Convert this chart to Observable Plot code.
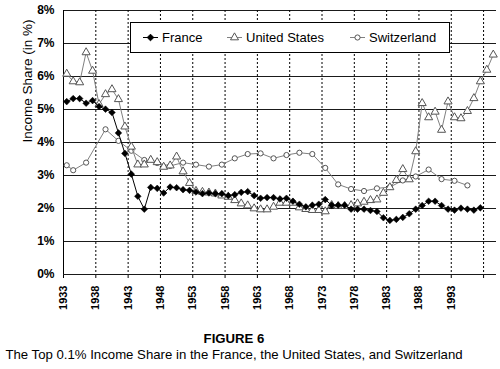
<!DOCTYPE html>
<html>
<head>
<meta charset="utf-8">
<script src="https://cdn.jsdelivr.net/npm/d3@7"></script>
<script src="https://cdn.jsdelivr.net/npm/@observablehq/plot@0.6"></script>
<style>
  body { margin: 0; background: #fff; font-family: "Liberation Sans", Arial, sans-serif; }
  #wrap { position: relative; width: 500px; height: 369px; overflow: hidden; }
  #chart { position: absolute; left: 0; top: 0; }
  #chart svg [aria-label="x-axis tick label"] text { font-size: 11px; font-weight: bold; }
  #chart svg [aria-label="y-axis tick label"] text { font-size: 12px; font-weight: bold; }
  #legend { position: absolute; left: 130px; top: 22px; width: 320px; height: 31px; box-sizing: border-box;
            border: 1px solid #000; background: #fff; }
  .cap { position: absolute; left: 0; width: 468px; text-align: center; font-size: 13.2px; line-height: 15px; color: #000; }
  #cap1 { top: 331px; font-weight: bold; }
  #cap2 { top: 347px; }
</style>
</head>
<body>
<div id="wrap">
  <div id="chart"></div>
  <div id="legend"></div>
  <div class="cap" id="cap1">FIGURE 6</div>
  <div class="cap" id="cap2">The Top 0.1% Income Share in the France, the United States, and Switzerland</div>
</div>
<script>
// ---- data (income share of top 0.1%, in %) ----
const franceYears = d3.range(1933, 1998);
const franceValues = [
  5.24, 5.33, 5.33, 5.19, 5.27, 5.09, 5.01, 4.91, 4.29, 3.67,
  3.04, 2.37, 1.98, 2.64, 2.61, 2.47, 2.65, 2.63, 2.57, 2.55,
  2.50, 2.45, 2.47, 2.45, 2.45, 2.39, 2.42, 2.49, 2.51, 2.39,
  2.31, 2.33, 2.33, 2.29, 2.31, 2.22, 2.13, 2.05, 2.10, 2.13,
  2.27, 2.10, 2.10, 2.10, 1.98, 1.98, 1.98, 1.94, 1.91, 1.72,
  1.64, 1.67, 1.73, 1.84, 1.98, 2.09, 2.22, 2.22, 2.09, 1.98,
  1.95, 2.01, 1.98, 1.95, 2.02
];
const usYears = d3.range(1933, 2000);
const usValues = [
  6.08, 5.85, 5.82, 6.73, 6.17, 5.16, 5.46, 5.61, 5.31, 4.48,
  3.87, 3.33, 3.33, 3.47, 3.40, 3.26, 3.30, 3.57, 3.12, 2.77,
  2.53, 2.50, 2.48, 2.45, 2.39, 2.35, 2.25, 2.15, 2.09, 2.00,
  1.97, 1.97, 2.05, 2.17, 2.17, 2.17, 2.03, 1.98, 1.95, 1.95,
  1.91, 2.10, 2.07, 2.07, 2.10, 2.15, 2.20, 2.25, 2.27, 2.47,
  2.64, 2.86, 3.19, 2.88, 3.73, 5.19, 4.76, 4.93, 4.38, 5.24,
  4.76, 4.73, 4.95, 5.34, 5.85, 6.20, 6.66
];
const swissYears = [1933, 1934, 1936, 1939, 1941, 1943, 1945, 1947, 1949, 1951, 1953, 1955, 1957, 1959, 1961,
  1963, 1965, 1967, 1969, 1971, 1973, 1975, 1977, 1979, 1981, 1983, 1985, 1987, 1989, 1991, 1993, 1995];
const swissValues = [3.31, 3.16, 3.39, 4.40, 4.05, 3.75, 3.47, 3.38, 3.29, 3.39, 3.33, 3.27, 3.33, 3.52, 3.65,
  3.67, 3.52, 3.62, 3.69, 3.65, 3.23, 2.73, 2.59, 2.53, 2.61, 2.65, 2.85, 2.97, 3.18, 2.89, 2.84, 2.70];

const gridYears = [1933, 1938, 1943, 1948, 1953, 1958, 1963, 1968, 1973, 1978, 1983, 1988, 1993, 1998];
const tickLabels = [1933, 1938, 1943, 1948, 1953, 1958, 1963, 1968, 1973, 1978, 1983, 1988, 1993];
const yTicks = [0, 1, 2, 3, 4, 5, 6, 7, 8];
const seriesNames = ["France", "United States", "Switzerland"];
const yTitle = "Income Share (in %)";

// ---- build tables ----
const rows = (years, values, s) => years.map((yr, i) => ({year: yr, value: values[i], series: s}));
const fr = rows(franceYears, franceValues, seriesNames[0]);
const us = rows(usYears, usValues, seriesNames[1]);
const sw = rows(swissYears, swissValues, seriesNames[2]);
// each year is a category; its point sits in the middle of the category band
const xc = d => d.year + 0.5;

const lineGray = "#808080";
const markGray = "#555555";

const chart = Plot.plot({
  width: 500,
  height: 320,
  marginLeft: 63,
  marginRight: 4,
  marginTop: 10,
  marginBottom: 46,
  style: {fontFamily: "'Liberation Sans', Arial, sans-serif", background: "white", color: "#000", overflow: "visible"},
  x: {domain: [1933, 2000], ticks: gridYears, tickFormat: d => tickLabels.includes(d) ? String(d) : "",
      tickRotate: -90, tickSize: 4, tickPadding: 7, label: null},
  y: {domain: [0, 8], ticks: yTicks, tickFormat: d => d + "%", tickSize: 0, tickPadding: 9, label: null},
  marks: [
    Plot.ruleY(yTicks, {stroke: "#1a1a1a", strokeWidth: 1}),
    Plot.ruleX(gridYears.slice(1), {stroke: "#000", strokeDasharray: "2,2"}),
    Plot.ruleX([gridYears[0]], {stroke: "#000"}),
    Plot.text([yTitle], {frameAnchor: "left", text: d => d, rotate: -90, dx: -36, fontSize: 13.5, fill: "#000"}),
    Plot.line(sw, {x: xc, y: "value", stroke: lineGray, strokeWidth: 1}),
    Plot.dot(sw, {x: xc, y: "value", symbol: "circle", r: 2.6, fill: "white", stroke: markGray, strokeWidth: 1}),
    Plot.line(us, {x: xc, y: "value", stroke: lineGray, strokeWidth: 1}),
    Plot.dot(us, {x: xc, y: "value", symbol: "triangle", r: 3, fill: "white", stroke: markGray, strokeWidth: 1}),
    Plot.line(fr, {x: xc, y: "value", stroke: "#000", strokeWidth: 1}),
    Plot.dot(fr, {x: xc, y: "value", symbol: "diamond2", r: 3, fill: "#000", stroke: "#000", strokeWidth: 0.5})
  ]
});
document.getElementById("chart").appendChild(chart);

// ---- legend (inside the plot area, white box) ----
const lg = d3.select("#legend").append("svg").attr("width", 318).attr("height", 29)
  .style("display", "block").style("font-family", "'Liberation Sans', Arial, sans-serif");
const items = [
  {name: seriesNames[0], x0: 12, sym: d3.symbolDiamond2, size: 28, fill: "#000", stroke: "#000", line: "#000"},
  {name: seriesNames[1], x0: 96, sym: d3.symbolTriangle, size: 28, fill: "#fff", stroke: markGray, line: lineGray},
  {name: seriesNames[2], x0: 219, sym: d3.symbolCircle, size: 21, fill: "#fff", stroke: markGray, line: lineGray}
];
const g = lg.selectAll("g").data(items).join("g").attr("transform", d => `translate(${d.x0},14.5)`);
g.append("line").attr("x1", 0).attr("x2", 15).attr("y1", 0).attr("y2", 0).attr("stroke", d => d.line);
g.append("path").attr("transform", "translate(7.5,0)").attr("d", d => d3.symbol(d.sym, d.size)())
  .attr("fill", d => d.fill).attr("stroke", d => d.stroke);
g.append("text").attr("x", 19).attr("y", 0).attr("dy", "0.36em").attr("font-size", 13).text(d => d.name);
</script>
</body>
</html>
